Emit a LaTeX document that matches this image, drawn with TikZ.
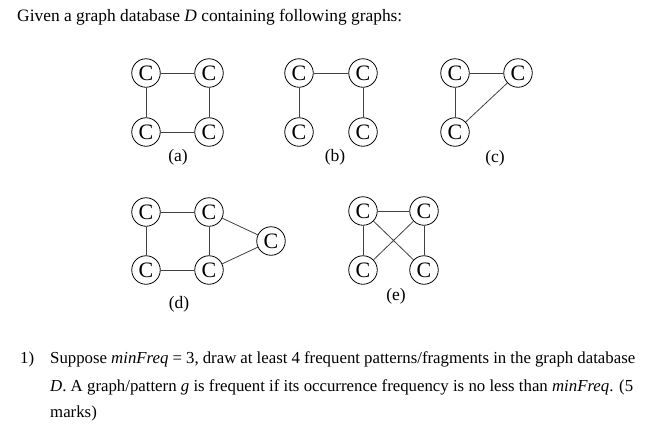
\documentclass[tikz,border=0pt]{standalone}
\usepackage{fontspec}
\setmainfont{Liberation Serif}
\begin{document}
\begin{tikzpicture}[x=1pt,y=-1pt,
  cnode/.style={circle,draw,line width=0.8pt,minimum size=28.5pt,inner sep=0pt,font=\fontsize{22}{22}\selectfont},
  edge/.style={draw=black!75,line width=0.8pt},
  lbl/.style={font=\fontsize{17.5}{17.5}\selectfont,inner sep=0pt},
  txt/.style={font=\fontsize{17.4}{20}\selectfont,inner sep=0pt,anchor=base west},
  ptxt/.style={font=\fontsize{16.8}{20}\selectfont,inner sep=0pt,anchor=base west}]
\useasboundingbox (0,0) rectangle (653,426);
% title
\node[txt] (title) at (17,21) {Given a graph database \textit{D} containing following graphs:};
% (a)
\node[cnode] (a1) at (146,73) {C};
\node[cnode] (a2) at (209,73) {C};
\node[cnode] (a3) at (146,132) {C};
\node[cnode] (a4) at (209,132) {C};
\draw[edge] (a1) -- (a2); \draw[edge] (a1) -- (a3);
\draw[edge] (a3) -- (a4); \draw[edge] (a2) -- (a4);
\node[lbl] (la) at (178,157) {(a)};
% (b)
\node[cnode] (b1) at (299,73) {C};
\node[cnode] (b2) at (363,73) {C};
\node[cnode] (b3) at (299,132) {C};
\node[cnode] (b4) at (363,132) {C};
\draw[edge] (b1) -- (b2); \draw[edge] (b1) -- (b3);
\draw[edge] (b2) -- (b4);
\node[lbl] (lb) at (335,157) {(b)};
% (c)
\node[cnode] (c1) at (455,73) {C};
\node[cnode] (c2) at (518,73) {C};
\node[cnode] (c3) at (455,132) {C};
\draw[edge] (c1) -- (c2); \draw[edge] (c1) -- (c3);
\draw[edge] (c3) -- (c2);
\node[lbl] (lc) at (495,158) {(c)};
% (d)
\node[cnode] (d1) at (146,212) {C};
\node[cnode] (d2) at (209,212) {C};
\node[cnode] (d3) at (146,270) {C};
\node[cnode] (d4) at (209,270) {C};
\node[cnode] (d5) at (271,241) {C};
\draw[edge] (d1) -- (d2); \draw[edge] (d1) -- (d3);
\draw[edge] (d3) -- (d4); \draw[edge] (d2) -- (d4);
\draw[edge] (d2) -- (d5); \draw[edge] (d4) -- (d5);
\node[lbl] (ld) at (179,304) {(d)};
% (e)
\node[cnode] (e1) at (363,211) {C};
\node[cnode] (e2) at (424,211) {C};
\node[cnode] (e3) at (363,270) {C};
\node[cnode] (e4) at (424,270) {C};
\draw[edge] (e1) -- (e2); \draw[edge] (e1) -- (e3);
\draw[edge] (e2) -- (e4); \draw[edge] (e1) -- (e4);
\draw[edge] (e2) -- (e3);
\node[lbl] (le) at (396,296) {(e)};
% question
\node[ptxt] (q1) at (20,363) {1)};
\node[ptxt] (q2) at (50,363) {\makebox[585pt][s]{Suppose \textit{minFreq} = 3, draw at least 4 frequent patterns/fragments in the graph database}};
\node[ptxt] (q3) at (50,391) {\makebox[583pt][s]{\textit{D}. A graph/pattern \textit{g} is frequent if its occurrence frequency is no less than \textit{minFreq}. (5}};
\node[ptxt] (q4) at (50,417) {marks)};
\end{tikzpicture}
\end{document}
